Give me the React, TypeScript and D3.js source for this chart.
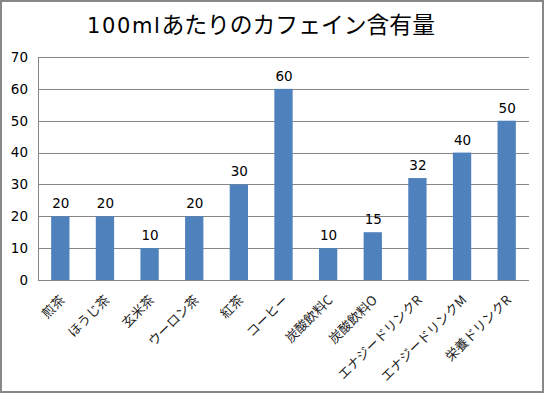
import React from "react";
import * as d3 from "d3";

const categories = ["煎茶", "ほうじ茶", "玄米茶", "ウーロン茶", "紅茶", "コーヒー", "炭酸飲料C", "炭酸飲料O", "エナジードリンクR", "エナジードリンクM", "栄養ドリンクR"];
const values = [20, 20, 10, 20, 30, 60, 10, 15, 32, 40, 50];
const yTicks = [0, 10, 20, 30, 40, 50, 60, 70];
const titleNum = "100ml";
const titleRest = "あたりのカフェイン含有量";

const W = 544, H = 393;
const left = 38, right = 529, top = 57, bottom = 280;
const jp = "'Noto Sans CJK JP', 'Noto Sans', sans-serif";
const num = "'DejaVu Sans', sans-serif";

export default function App() {
  const x = d3.scaleBand<string>().domain(categories).range([left, right]).paddingInner(0.59).paddingOuter(0.295);
  const y = d3.scaleLinear().domain([0, 70]).range([bottom, top]);
  return (
    <div style={{ position: "absolute", left: 0, top: 0 }}>
      <svg width={W} height={H} style={{ display: "block" }}>
        <rect x={1} y={1} width={W - 2} height={H - 2} fill="#fff" stroke="#888" strokeWidth={2} />
        <text x={87} y={33} fill="#000">
          <tspan fontFamily={num} fontSize={21} letterSpacing={1.6}>{titleNum}</tspan>
          <tspan fontFamily={jp} fontSize={22.8}>{titleRest}</tspan>
        </text>
        {yTicks.map((t) => (
          <g key={t}>
            <line x1={left} x2={right} y1={Math.round(y(t)) + 0.5} y2={Math.round(y(t)) + 0.5} stroke="#868686" strokeWidth={1} />
            <text x={28} y={y(t)} dy="0.36em" textAnchor="end" fontFamily={num} fontSize={13.5} fill="#000">{t}</text>
          </g>
        ))}
        <line x1={left + 0.5} x2={left + 0.5} y1={top} y2={bottom} stroke="#868686" strokeWidth={1} />
        {categories.map((c, i) => (
          <g key={c}>
            <rect x={x(c)} y={y(values[i])} width={x.bandwidth()} height={bottom - y(values[i])} fill="#4F81BD" />
            <text x={(x(c) as number) + x.bandwidth() / 2 + 0.5} y={y(values[i]) - 8} textAnchor="middle" fontFamily={num} fontSize={13.5} fill="#000">{values[i]}</text>
            <text transform={`translate(${(x(c) as number) + x.bandwidth() / 2 + 1.5},${297}) rotate(-45)`} textAnchor="end" dominantBaseline="central" fontFamily={jp} fontSize={13} fill="#222">{c}</text>
          </g>
        ))}
        <line x1={left} x2={right} y1={bottom + 0.5} y2={bottom + 0.5} stroke="#868686" strokeWidth={1} />
      </svg>
    </div>
  );
}
